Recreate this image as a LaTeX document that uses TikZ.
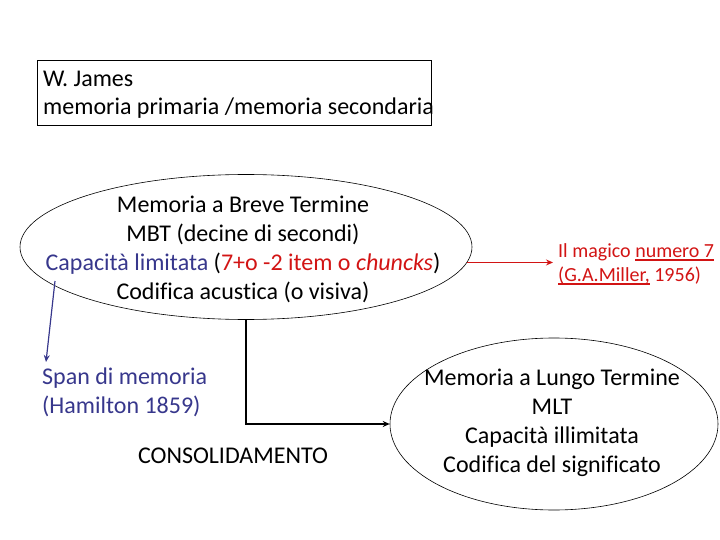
\documentclass[tikz,border=0pt]{standalone}
\usepackage{fontspec}
\setmainfont{Carlito}[Ligatures=NoCommon]
\usetikzlibrary{shapes.geometric,arrows.meta}
\definecolor{myred}{RGB}{210,20,20}
\definecolor{myblue}{RGB}{55,55,140}
\newcommand\redul[1]{\setbox0\hbox{#1}\rlap{\color{myred}\rule[-3.5pt]{\wd0}{1.8pt}}\box0\relax}
\begin{document}
\begin{tikzpicture}[x=1pt,y=-1pt,
  txt/.style={font=\fontsize{24}{29}\selectfont, inner sep=0pt, align=center},
  smalltxt/.style={font=\fontsize{20}{24}\selectfont, inner sep=0pt, align=left, text=myred},
  oval/.style={ellipse, draw, line width=0.6pt, inner sep=0pt}]
\useasboundingbox (0,0) rectangle (720,540);
% W. James box
\node[draw, line width=0.8pt, anchor=north west, minimum width=394pt, minimum height=65pt, inner sep=0pt] (james) at (37,60) {};
\node[txt, align=left, font=\fontsize{24}{28}\selectfont, anchor=west] (jamestext) at (43,95) {W. James\\memoria primaria /memoria secondaria};
% MBT ellipse
\node[oval, minimum width=452pt, minimum height=145pt] (mbt) at (246,247) {};
\node[txt] (mbttext) at (243,249) {Memoria a Breve Termine\\MBT (decine di secondi)\\\textcolor{myblue}{Capacità limitata} (\textcolor{myred}{7+o -2 item o \textit{chuncks}})\\Codifica acustica (o visiva)};
% Miller
\node[smalltxt, anchor=west] (miller) at (558,264) {Il magico \redul{numero 7}\\\redul{(G.A.Miller,} 1956)};
\draw[myred, line width=1.4pt, -{Stealth[length=7pt,width=6pt]}] (mbt.-4) -- ([xshift=-5pt]mbt.-4 -| miller.west);
% Span di memoria
\node[txt, align=left, text=myblue, anchor=north west] (span) at (42,368) {Span di memoria\\(Hamilton 1859)};
\coordinate (bstart) at (55,281);
\draw[myblue, line width=1.2pt, -{Stealth[length=7pt,width=6pt]}] (bstart) -- ([xshift=4pt,yshift=6pt]span.north west);
% MLT ellipse
\node[oval, minimum width=328pt, minimum height=172pt] (mlt) at (554,424) {};
\node[txt] (mlttext) at (552,423) {Memoria a Lungo Termine\\MLT\\Capacità illimitata\\Codifica del significato};
% consolidamento
\node[txt] (cons) at (233,456) {CONSOLIDAMENTO};
\draw[line width=1.6pt, -{Stealth[length=7pt,width=6pt]}] (mbt.south) |- (mlt.west);
\end{tikzpicture}
\end{document}
